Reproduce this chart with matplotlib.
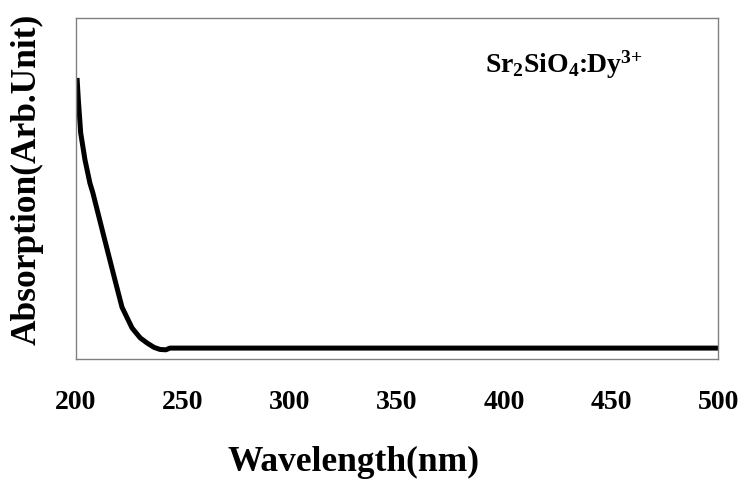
import matplotlib
matplotlib.use("Agg")
import matplotlib.pyplot as plt

plt.rcParams["font.family"] = ["Liberation Serif", "DejaVu Serif"]
plt.rcParams["font.weight"] = "bold"
plt.rcParams["mathtext.fontset"] = "custom"
plt.rcParams["mathtext.rm"] = "Liberation Serif:bold"
plt.rcParams["mathtext.it"] = "Liberation Serif:bold"
plt.rcParams["mathtext.bf"] = "Liberation Serif:bold"

# absorption spectrum
wavelength = [200.5, 201.1, 202.2, 204.2, 206.5, 207.9, 212.6, 218.2, 221.5,
              226.2, 230.0, 233.2, 236.5, 239.3, 242.0, 243.9, 250, 300, 350,
              400, 450, 500]
absorption = [0.824, 0.760, 0.663, 0.584, 0.516, 0.487, 0.370, 0.232, 0.152,
              0.091, 0.062, 0.047, 0.034, 0.028, 0.027, 0.032, 0.032, 0.032,
              0.032, 0.032, 0.032, 0.032]
xticks = [200, 250, 300, 350, 400, 450, 500]

fig = plt.figure(figsize=(7.42, 4.79), dpi=100)
ax = fig.add_axes([0.1024, 0.2505, 0.8653, 0.712])

ax.plot(wavelength, absorption, color="black", linewidth=3.6,
        solid_capstyle="butt", solid_joinstyle="round")

ax.set_xlim(200, 500)
ax.set_ylim(0, 1)
ax.set_xticks(xticks)
ax.set_yticks([])
ax.tick_params(axis="x", length=0, pad=22, labelsize=20)
for lbl in ax.get_xticklabels():
    lbl.set_fontweight("bold")
for s in ax.spines.values():
    s.set_color("#808080")
    s.set_linewidth(1.0)

fig.text(353 / 742, 1 - 462 / 479, "Wavelength(nm)", fontsize=25.5,
         fontweight="bold", ha="center", va="center")
fig.text(27 / 742, 1 - 179 / 479, "Absorption(Arb.Unit)", fontsize=25.5,
         fontweight="bold", ha="center", va="center", rotation=90)

ax.text(0.637, 0.839, r"Sr$_2$SiO$_4$:Dy$^{3{+}}$", transform=ax.transAxes,
        fontsize=20, fontweight="bold", va="baseline", ha="left")

fig.savefig("out.png", dpi=100)
